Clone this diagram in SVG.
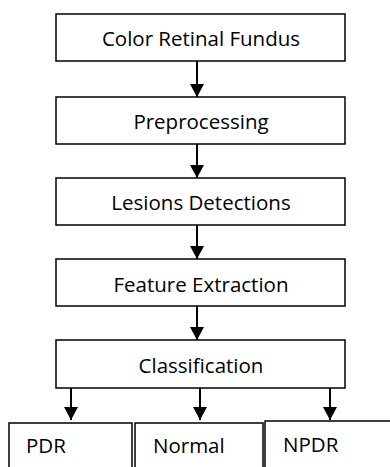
<svg xmlns="http://www.w3.org/2000/svg" width="390" height="467" viewBox="0 0 390 467">
<style>
.box{fill:#fff;stroke:#000;stroke-width:1.5}
.lbl{font-family:"Open Sans","Liberation Sans",sans-serif;font-size:20.5px;fill:#000}
.c{text-anchor:middle}
.con{stroke:#000;stroke-width:2;fill:none;marker-end:url(#ah)}
</style>
<defs>
<marker id="ah" markerUnits="userSpaceOnUse" markerWidth="13" markerHeight="14" refX="13" refY="7" orient="auto" viewBox="0 0 13 14">
<path d="M0,0 L13,7 L0,14 Z" fill="#000"/>
</marker>
</defs>
<rect width="390" height="467" fill="#fff"/>
<g id="connectors">
<path class="con" d="M197,61 V97"/>
<path class="con" d="M197,144 V178"/>
<path class="con" d="M197,225 V259"/>
<path class="con" d="M197,306 V340"/>
<path class="con" d="M71,388 V420"/>
<path class="con" d="M200,388 V420"/>
<path class="con" d="M330,388 V420"/>
</g>
<g id="n1"><rect class="box" x="56" y="14" width="289" height="47"/><text class="lbl c" x="201" y="46">Color Retinal Fundus</text></g>
<g id="n2"><rect class="box" x="56" y="97" width="289" height="47"/><text class="lbl c" x="201" y="129">Preprocessing</text></g>
<g id="n3"><rect class="box" x="56" y="178" width="289" height="47"/><text class="lbl c" x="201" y="210">Lesions Detections</text></g>
<g id="n4"><rect class="box" x="56" y="259" width="289" height="47"/><text class="lbl c" x="201" y="292">Feature Extraction</text></g>
<g id="n5"><rect class="box" x="56" y="340" width="289" height="48"/><text class="lbl c" x="201" y="373">Classification</text></g>
<g id="n6"><rect class="box" x="9" y="423" width="123" height="60"/><text class="lbl" x="26" y="453">PDR</text></g>
<g id="n7"><rect class="box" x="135" y="423" width="128" height="60"/><text class="lbl" x="153" y="453">Normal</text></g>
<g id="n8"><rect class="box" x="265" y="421" width="130" height="60"/><text class="lbl" x="283" y="452">NPDR</text></g>
</svg>
